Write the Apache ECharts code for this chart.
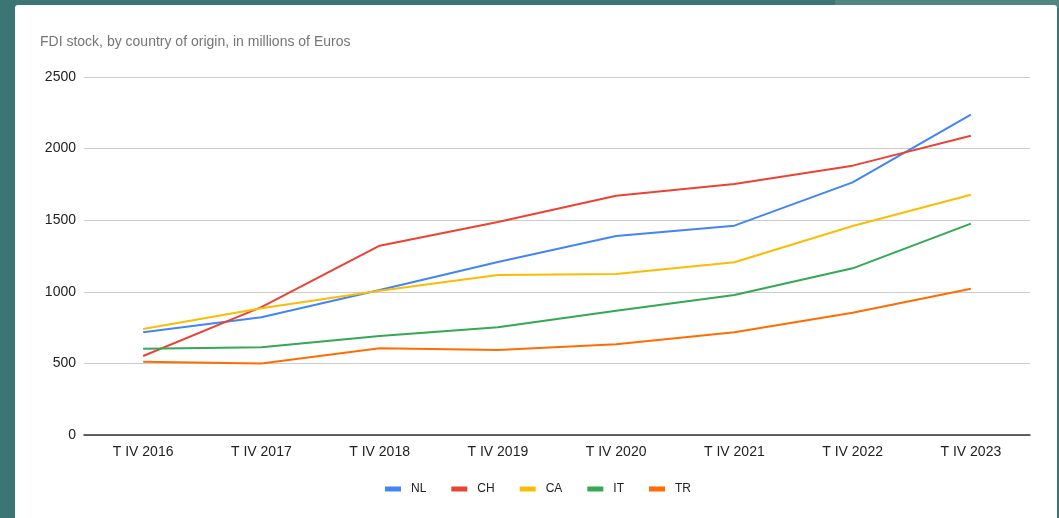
<!DOCTYPE html>
<html>
<head>
<meta charset="utf-8">
<script src="https://cdn.jsdelivr.net/npm/echarts@6/dist/echarts.min.js"></script>
<style>
  html, body { margin: 0; padding: 0; width: 1059px; height: 518px; overflow: hidden; background: #3b7574; }
  #accent { position: absolute; left: 835px; top: 0; width: 224px; height: 8px; background: #4f8684; }
  #panel { position: absolute; left: 15px; top: 5px; width: 1042px; height: 520px; background: #ffffff; border-radius: 3px 3px 0 0; }
  #chart { position: absolute; left: 0; top: 0; width: 1059px; height: 518px; }
</style>
</head>
<body>
<div id="accent"></div>
<div id="panel"></div>
<div id="chart"></div>
<script>
// Quarter labels (fourth quarter of each year)
const quarters = ['T IV 2016', 'T IV 2017', 'T IV 2018', 'T IV 2019', 'T IV 2020', 'T IV 2021', 'T IV 2022', 'T IV 2023'];

// FDI stock by country of origin, millions of euros
const nl = [718, 822, 1012, 1208, 1390, 1462, 1764, 2237];
const ch = [552, 893, 1322, 1487, 1671, 1753, 1881, 2090];
const ca = [740, 885, 1008, 1117, 1124, 1206, 1460, 1678];
const it = [603, 612, 691, 752, 868, 978, 1164, 1476];
const tr = [512, 500, 605, 594, 633, 717, 854, 1022];

const yTicks = { min: 0, max: 2500, step: 500 };

const seriesDefs = [
  { name: 'NL', data: nl, color: '#4285F4' },
  { name: 'CH', data: ch, color: '#EA4335' },
  { name: 'CA', data: ca, color: '#FBBC04' },
  { name: 'IT', data: it, color: '#34A853' },
  { name: 'TR', data: tr, color: '#FF6D01' }
];

const font = 'Liberation Sans, Arial, sans-serif';
const chart = echarts.init(document.getElementById('chart'));

chart.setOption({
  backgroundColor: 'transparent',
  animation: false,
  title: {
    text: 'FDI stock, by country of origin, in millions of Euros',
    left: 35,
    top: 30,
    textStyle: { fontFamily: font, fontSize: 14, fontWeight: 'normal', color: '#757575' }
  },
  legend: {
    left: 385,
    top: 483,
    padding: 0,
    itemWidth: 16,
    itemHeight: 5,
    itemGap: 25,
    icon: 'rect',
    textStyle: { fontFamily: font, fontSize: 12, color: '#222', padding: [0, 0, 0, 5] },
    data: seriesDefs.map(s => s.name)
  },
  grid: { left: 84, right: 29, top: 77, bottom: 83, containLabel: false },
  xAxis: {
    type: 'category',
    data: quarters,
    boundaryGap: true,
    axisLine: { lineStyle: { color: '#333', width: 1.5 } },
    axisTick: { show: false },
    axisLabel: { fontFamily: font, fontSize: 14, color: '#222', margin: 10 }
  },
  yAxis: {
    type: 'value',
    min: yTicks.min,
    max: yTicks.max,
    interval: yTicks.step,
    axisLine: { show: false },
    axisTick: { show: false },
    axisLabel: { fontFamily: font, fontSize: 14, color: '#222', margin: 8, formatter: v => String(v) },
    splitLine: { lineStyle: { color: '#cccccc', width: 1 } }
  },
  series: seriesDefs.map(s => ({
    name: s.name,
    type: 'line',
    data: s.data,
    showSymbol: false,
    symbol: 'none',
    lineStyle: { color: s.color, width: 2 },
    itemStyle: { color: s.color }
  }))
});
</script>
</body>
</html>
